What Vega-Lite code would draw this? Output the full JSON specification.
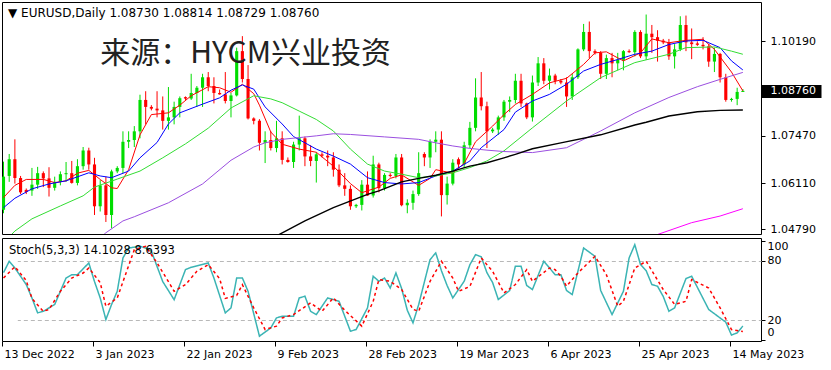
{
"$schema": "https://vega.github.io/schema/vega-lite/v6.json",
"background": "#ffffff",
"padding": {"left": 1, "top": 1, "right": 0, "bottom": 0},
"bounds": "flush",
"spacing": 4,
"resolve": {"scale": {"x": "shared", "color": "independent", "strokeDash": "independent", "strokeWidth": "independent"}},
"config": {
  "font": "DejaVu Sans",
  "view": {"stroke": "#000000", "strokeWidth": 1},
  "axis": {"labelFont": "DejaVu Sans", "labelFontSize": 11, "labelColor": "#000000", "tickColor": "#000000", "domain": false, "grid": false}
},
"datasets": {
"candles": [
{"d":"2022-12-13","o":1.0535,"h":1.0673,"l":1.0525,"c":1.0630},
{"d":"2022-12-14","o":1.0632,"h":1.0695,"l":1.0615,"c":1.0680},
{"d":"2022-12-15","o":1.0680,"h":1.0737,"l":1.0610,"c":1.0626},
{"d":"2022-12-16","o":1.0626,"h":1.0632,"l":1.0580,"c":1.0585},
{"d":"2022-12-18","o":1.0592,"h":1.0596,"l":1.0580,"c":1.0586},
{"d":"2022-12-19","o":1.0590,"h":1.0655,"l":1.0575,"c":1.0607},
{"d":"2022-12-20","o":1.0607,"h":1.0658,"l":1.0595,"c":1.0640},
{"d":"2022-12-21","o":1.0640,"h":1.0645,"l":1.0600,"c":1.0625},
{"d":"2022-12-22","o":1.0625,"h":1.0657,"l":1.0573,"c":1.0598},
{"d":"2022-12-23","o":1.0598,"h":1.0630,"l":1.0590,"c":1.0615},
{"d":"2022-12-26","o":1.0615,"h":1.0645,"l":1.0605,"c":1.0637},
{"d":"2022-12-27","o":1.0637,"h":1.0672,"l":1.0615,"c":1.0640},
{"d":"2022-12-28","o":1.0640,"h":1.0675,"l":1.0610,"c":1.0612},
{"d":"2022-12-29","o":1.0612,"h":1.0680,"l":1.0605,"c":1.0660},
{"d":"2022-12-30","o":1.0660,"h":1.0715,"l":1.0650,"c":1.0705},
{"d":"2023-01-02","o":1.0705,"h":1.0713,"l":1.0650,"c":1.0665},
{"d":"2023-01-03","o":1.0665,"h":1.0684,"l":1.0520,"c":1.0545},
{"d":"2023-01-04","o":1.0545,"h":1.0620,"l":1.0530,"c":1.0605},
{"d":"2023-01-05","o":1.0605,"h":1.0630,"l":1.0500,"c":1.0520},
{"d":"2023-01-06","o":1.0520,"h":1.0650,"l":1.0482,"c":1.0645},
{"d":"2023-01-08","o":1.0645,"h":1.0660,"l":1.0640,"c":1.0655},
{"d":"2023-01-09","o":1.0655,"h":1.0760,"l":1.0640,"c":1.0730},
{"d":"2023-01-10","o":1.0730,"h":1.0760,"l":1.0712,"c":1.0735},
{"d":"2023-01-11","o":1.0735,"h":1.0775,"l":1.0715,"c":1.0760},
{"d":"2023-01-12","o":1.0760,"h":1.0865,"l":1.0740,"c":1.0850},
{"d":"2023-01-13","o":1.0850,"h":1.0875,"l":1.0780,"c":1.0830},
{"d":"2023-01-15","o":1.0830,"h":1.0835,"l":1.0820,"c":1.0825},
{"d":"2023-01-16","o":1.0825,"h":1.0875,"l":1.0800,"c":1.0820},
{"d":"2023-01-17","o":1.0820,"h":1.0860,"l":1.0765,"c":1.0790},
{"d":"2023-01-18","o":1.0790,"h":1.0887,"l":1.0765,"c":1.0800},
{"d":"2023-01-19","o":1.0800,"h":1.0845,"l":1.0780,"c":1.0830},
{"d":"2023-01-20","o":1.0830,"h":1.0860,"l":1.0800,"c":1.0855},
{"d":"2023-01-22","o":1.0858,"h":1.0860,"l":1.0850,"c":1.0854},
{"d":"2023-01-23","o":1.0854,"h":1.0925,"l":1.0850,"c":1.0870},
{"d":"2023-01-24","o":1.0870,"h":1.0890,"l":1.0830,"c":1.0885},
{"d":"2023-01-25","o":1.0885,"h":1.0925,"l":1.0830,"c":1.0915},
{"d":"2023-01-26","o":1.0915,"h":1.0930,"l":1.0875,"c":1.0890},
{"d":"2023-01-27","o":1.0890,"h":1.0915,"l":1.0840,"c":1.0870},
{"d":"2023-01-29","o":1.0870,"h":1.0880,"l":1.0865,"c":1.0866},
{"d":"2023-01-30","o":1.0866,"h":1.0930,"l":1.0840,"c":1.0847},
{"d":"2023-01-31","o":1.0847,"h":1.0870,"l":1.0800,"c":1.0863},
{"d":"2023-02-01","o":1.0863,"h":1.1000,"l":1.0860,"c":1.0990},
{"d":"2023-02-02","o":1.0990,"h":1.1033,"l":1.0900,"c":1.0910},
{"d":"2023-02-03","o":1.0910,"h":1.0950,"l":1.0794,"c":1.0797},
{"d":"2023-02-05","o":1.0797,"h":1.0800,"l":1.0780,"c":1.0790},
{"d":"2023-02-06","o":1.0790,"h":1.0795,"l":1.0705,"c":1.0727},
{"d":"2023-02-07","o":1.0727,"h":1.0760,"l":1.0669,"c":1.0735},
{"d":"2023-02-08","o":1.0735,"h":1.0760,"l":1.0705,"c":1.0712},
{"d":"2023-02-09","o":1.0712,"h":1.0790,"l":1.0700,"c":1.0740},
{"d":"2023-02-10","o":1.0740,"h":1.0760,"l":1.0665,"c":1.0678},
{"d":"2023-02-12","o":1.0678,"h":1.0685,"l":1.0670,"c":1.0672},
{"d":"2023-02-13","o":1.0672,"h":1.0730,"l":1.0655,"c":1.0722},
{"d":"2023-02-14","o":1.0722,"h":1.0805,"l":1.0705,"c":1.0740},
{"d":"2023-02-15","o":1.0740,"h":1.0745,"l":1.0660,"c":1.0688},
{"d":"2023-02-16","o":1.0688,"h":1.0720,"l":1.0660,"c":1.0675},
{"d":"2023-02-17","o":1.0675,"h":1.0700,"l":1.0613,"c":1.0694},
{"d":"2023-02-19","o":1.0694,"h":1.0700,"l":1.0685,"c":1.0690},
{"d":"2023-02-20","o":1.0690,"h":1.0705,"l":1.0660,"c":1.0685},
{"d":"2023-02-21","o":1.0685,"h":1.0700,"l":1.0630,"c":1.0650},
{"d":"2023-02-22","o":1.0650,"h":1.0665,"l":1.0600,"c":1.0605},
{"d":"2023-02-23","o":1.0605,"h":1.0640,"l":1.0575,"c":1.0595},
{"d":"2023-02-24","o":1.0595,"h":1.0605,"l":1.0535,"c":1.0545},
{"d":"2023-02-26","o":1.0545,"h":1.0552,"l":1.0540,"c":1.0549},
{"d":"2023-02-27","o":1.0549,"h":1.0620,"l":1.0533,"c":1.0607},
{"d":"2023-02-28","o":1.0607,"h":1.0645,"l":1.0575,"c":1.0576},
{"d":"2023-03-01","o":1.0576,"h":1.0690,"l":1.0570,"c":1.0665},
{"d":"2023-03-02","o":1.0665,"h":1.0670,"l":1.0585,"c":1.0597},
{"d":"2023-03-03","o":1.0597,"h":1.0640,"l":1.0590,"c":1.0635},
{"d":"2023-03-05","o":1.0635,"h":1.0640,"l":1.0628,"c":1.0632},
{"d":"2023-03-06","o":1.0632,"h":1.0695,"l":1.0625,"c":1.0685},
{"d":"2023-03-07","o":1.0685,"h":1.0695,"l":1.0545,"c":1.0548},
{"d":"2023-03-08","o":1.0548,"h":1.0565,"l":1.0525,"c":1.0555},
{"d":"2023-03-09","o":1.0555,"h":1.0590,"l":1.0535,"c":1.0580},
{"d":"2023-03-10","o":1.0580,"h":1.0700,"l":1.0575,"c":1.0640},
{"d":"2023-03-12","o":1.0695,"h":1.0700,"l":1.0660,"c":1.0685},
{"d":"2023-03-13","o":1.0685,"h":1.0737,"l":1.0655,"c":1.0730},
{"d":"2023-03-14","o":1.0730,"h":1.0760,"l":1.0700,"c":1.0736},
{"d":"2023-03-15","o":1.0736,"h":1.0760,"l":1.0516,"c":1.0577},
{"d":"2023-03-16","o":1.0577,"h":1.0630,"l":1.0550,"c":1.0610},
{"d":"2023-03-17","o":1.0610,"h":1.0680,"l":1.0605,"c":1.0670},
{"d":"2023-03-19","o":1.0680,"h":1.0685,"l":1.0655,"c":1.0665},
{"d":"2023-03-20","o":1.0665,"h":1.0730,"l":1.0655,"c":1.0720},
{"d":"2023-03-21","o":1.0720,"h":1.0787,"l":1.0712,"c":1.0770},
{"d":"2023-03-22","o":1.0770,"h":1.0912,"l":1.0760,"c":1.0857},
{"d":"2023-03-23","o":1.0857,"h":1.0930,"l":1.0820,"c":1.0832},
{"d":"2023-03-24","o":1.0832,"h":1.0845,"l":1.0712,"c":1.0760},
{"d":"2023-03-26","o":1.0760,"h":1.0770,"l":1.0755,"c":1.0765},
{"d":"2023-03-27","o":1.0765,"h":1.0805,"l":1.0750,"c":1.0800},
{"d":"2023-03-28","o":1.0800,"h":1.0850,"l":1.0790,"c":1.0845},
{"d":"2023-03-29","o":1.0845,"h":1.0860,"l":1.0815,"c":1.0850},
{"d":"2023-03-30","o":1.0850,"h":1.0925,"l":1.0840,"c":1.0905},
{"d":"2023-03-31","o":1.0905,"h":1.0925,"l":1.0830,"c":1.0840},
{"d":"2023-04-02","o":1.0840,"h":1.0842,"l":1.0795,"c":1.0800},
{"d":"2023-04-03","o":1.0800,"h":1.0920,"l":1.0788,"c":1.0900},
{"d":"2023-04-04","o":1.0900,"h":1.0973,"l":1.0890,"c":1.0955},
{"d":"2023-04-05","o":1.0955,"h":1.0970,"l":1.0895,"c":1.0905},
{"d":"2023-04-06","o":1.0905,"h":1.0940,"l":1.0880,"c":1.0920},
{"d":"2023-04-07","o":1.0920,"h":1.0925,"l":1.0895,"c":1.0905},
{"d":"2023-04-09","o":1.0905,"h":1.0910,"l":1.0895,"c":1.0900},
{"d":"2023-04-10","o":1.0900,"h":1.0915,"l":1.0830,"c":1.0860},
{"d":"2023-04-11","o":1.0860,"h":1.0925,"l":1.0850,"c":1.0915},
{"d":"2023-04-12","o":1.0915,"h":1.0998,"l":1.0910,"c":1.0995},
{"d":"2023-04-13","o":1.0995,"h":1.1068,"l":1.0990,"c":1.1045},
{"d":"2023-04-14","o":1.1045,"h":1.1075,"l":1.0970,"c":1.0990},
{"d":"2023-04-16","o":1.0990,"h":1.0995,"l":1.0980,"c":1.0985},
{"d":"2023-04-17","o":1.0985,"h":1.0990,"l":1.0910,"c":1.0925},
{"d":"2023-04-18","o":1.0925,"h":1.0980,"l":1.0910,"c":1.0970},
{"d":"2023-04-19","o":1.0970,"h":1.0985,"l":1.0915,"c":1.0955},
{"d":"2023-04-20","o":1.0955,"h":1.0985,"l":1.0935,"c":1.0965},
{"d":"2023-04-21","o":1.0965,"h":1.0993,"l":1.0935,"c":1.0990},
{"d":"2023-04-23","o":1.0990,"h":1.0995,"l":1.0985,"c":1.0987},
{"d":"2023-04-24","o":1.0987,"h":1.1050,"l":1.0975,"c":1.1045},
{"d":"2023-04-25","o":1.1045,"h":1.1050,"l":1.0970,"c":1.0975},
{"d":"2023-04-26","o":1.0975,"h":1.1095,"l":1.0965,"c":1.1040},
{"d":"2023-04-27","o":1.1040,"h":1.1065,"l":1.0985,"c":1.1030},
{"d":"2023-04-28","o":1.1030,"h":1.1050,"l":1.0960,"c":1.1020},
{"d":"2023-04-30","o":1.1020,"h":1.1025,"l":1.1010,"c":1.1015},
{"d":"2023-05-01","o":1.1015,"h":1.1025,"l":1.0965,"c":1.0975},
{"d":"2023-05-02","o":1.0975,"h":1.1010,"l":1.0940,"c":1.0995},
{"d":"2023-05-03","o":1.0995,"h":1.1090,"l":1.0990,"c":1.1065},
{"d":"2023-05-04","o":1.1065,"h":1.1092,"l":1.0990,"c":1.1015},
{"d":"2023-05-05","o":1.1015,"h":1.1055,"l":1.0967,"c":1.1010},
{"d":"2023-05-07","o":1.1012,"h":1.1018,"l":1.1005,"c":1.1008},
{"d":"2023-05-08","o":1.1008,"h":1.1030,"l":1.0995,"c":1.1004},
{"d":"2023-05-09","o":1.1004,"h":1.1010,"l":1.0945,"c":1.0960},
{"d":"2023-05-10","o":1.0960,"h":1.1000,"l":1.0930,"c":1.0982},
{"d":"2023-05-11","o":1.0982,"h":1.0985,"l":1.0900,"c":1.0915},
{"d":"2023-05-12","o":1.0915,"h":1.0925,"l":1.0845,"c":1.0850},
{"d":"2023-05-14","o":1.0850,"h":1.0856,"l":1.0845,"c":1.0853},
{"d":"2023-05-15","o":1.0853,"h":1.0885,"l":1.0835,"c":1.0873},
{"d":"2023-05-16","o":1.0873,"h":1.08814,"l":1.08729,"c":1.0876}
],
"ma": [
{"n":"MA5","d":"2022-12-13","v":1.0570},{"n":"MA5","d":"2022-12-15","v":1.0605},{"n":"MA5","d":"2022-12-18","v":1.0622},{"n":"MA5","d":"2022-12-21","v":1.0622},{"n":"MA5","d":"2022-12-23","v":1.0613},{"n":"MA5","d":"2022-12-27","v":1.0618},{"n":"MA5","d":"2022-12-29","v":1.0640},{"n":"MA5","d":"2023-01-02","v":1.0648},{"n":"MA5","d":"2023-01-04","v":1.0622},{"n":"MA5","d":"2023-01-06","v":1.0598},{"n":"MA5","d":"2023-01-08","v":1.0596},{"n":"MA5","d":"2023-01-10","v":1.0650},{"n":"MA5","d":"2023-01-12","v":1.0750},{"n":"MA5","d":"2023-01-15","v":1.0808},{"n":"MA5","d":"2023-01-18","v":1.0813},{"n":"MA5","d":"2023-01-20","v":1.0835},{"n":"MA5","d":"2023-01-23","v":1.0862},{"n":"MA5","d":"2023-01-26","v":1.0888},{"n":"MA5","d":"2023-01-29","v":1.0885},{"n":"MA5","d":"2023-01-31","v":1.0872},{"n":"MA5","d":"2023-02-02","v":1.0895},{"n":"MA5","d":"2023-02-05","v":1.0868},{"n":"MA5","d":"2023-02-06","v":1.0835},{"n":"MA5","d":"2023-02-08","v":1.0758},{"n":"MA5","d":"2023-02-10","v":1.0723},{"n":"MA5","d":"2023-02-14","v":1.0709},{"n":"MA5","d":"2023-02-17","v":1.0700},{"n":"MA5","d":"2023-02-21","v":1.0660},{"n":"MA5","d":"2023-02-24","v":1.0610},{"n":"MA5","d":"2023-02-27","v":1.0584},{"n":"MA5","d":"2023-03-02","v":1.0600},{"n":"MA5","d":"2023-03-05","v":1.0625},{"n":"MA5","d":"2023-03-07","v":1.0635},{"n":"MA5","d":"2023-03-10","v":1.0605},{"n":"MA5","d":"2023-03-13","v":1.0625},{"n":"MA5","d":"2023-03-14","v":1.0650},{"n":"MA5","d":"2023-03-17","v":1.0640},{"n":"MA5","d":"2023-03-20","v":1.0668},{"n":"MA5","d":"2023-03-22","v":1.0730},{"n":"MA5","d":"2023-03-26","v":1.0775},{"n":"MA5","d":"2023-03-28","v":1.0808},{"n":"MA5","d":"2023-03-30","v":1.0837},{"n":"MA5","d":"2023-04-03","v":1.0866},{"n":"MA5","d":"2023-04-06","v":1.0899},{"n":"MA5","d":"2023-04-10","v":1.0912},{"n":"MA5","d":"2023-04-13","v":1.0952},{"n":"MA5","d":"2023-04-16","v":1.0985},{"n":"MA5","d":"2023-04-18","v":1.0988},{"n":"MA5","d":"2023-04-21","v":1.0962},{"n":"MA5","d":"2023-04-25","v":1.0985},{"n":"MA5","d":"2023-04-27","v":1.1025},{"n":"MA5","d":"2023-05-01","v":1.1014},{"n":"MA5","d":"2023-05-04","v":1.1021},{"n":"MA5","d":"2023-05-08","v":1.1024},{"n":"MA5","d":"2023-05-10","v":1.0995},{"n":"MA5","d":"2023-05-14","v":1.0930},{"n":"MA5","d":"2023-05-16","v":1.0876},
{"n":"MA10","d":"2022-12-13","v":1.0541},{"n":"MA10","d":"2022-12-15","v":1.0568},{"n":"MA10","d":"2022-12-19","v":1.0595},{"n":"MA10","d":"2022-12-22","v":1.0609},{"n":"MA10","d":"2022-12-27","v":1.0618},{"n":"MA10","d":"2023-01-02","v":1.0641},{"n":"MA10","d":"2023-01-04","v":1.0632},{"n":"MA10","d":"2023-01-06","v":1.0627},{"n":"MA10","d":"2023-01-10","v":1.0646},{"n":"MA10","d":"2023-01-12","v":1.0684},{"n":"MA10","d":"2023-01-16","v":1.0728},{"n":"MA10","d":"2023-01-18","v":1.0781},{"n":"MA10","d":"2023-01-20","v":1.0813},{"n":"MA10","d":"2023-01-25","v":1.0838},{"n":"MA10","d":"2023-01-29","v":1.0856},{"n":"MA10","d":"2023-01-31","v":1.0878},{"n":"MA10","d":"2023-02-02","v":1.0893},{"n":"MA10","d":"2023-02-05","v":1.0881},{"n":"MA10","d":"2023-02-07","v":1.0830},{"n":"MA10","d":"2023-02-10","v":1.0781},{"n":"MA10","d":"2023-02-13","v":1.0745},{"n":"MA10","d":"2023-02-17","v":1.0709},{"n":"MA10","d":"2023-02-21","v":1.0689},{"n":"MA10","d":"2023-02-24","v":1.0666},{"n":"MA10","d":"2023-02-28","v":1.0627},{"n":"MA10","d":"2023-03-03","v":1.0613},{"n":"MA10","d":"2023-03-07","v":1.0609},{"n":"MA10","d":"2023-03-10","v":1.0613},{"n":"MA10","d":"2023-03-14","v":1.0632},{"n":"MA10","d":"2023-03-17","v":1.0646},{"n":"MA10","d":"2023-03-21","v":1.0675},{"n":"MA10","d":"2023-03-23","v":1.0713},{"n":"MA10","d":"2023-03-28","v":1.0765},{"n":"MA10","d":"2023-03-30","v":1.0815},{"n":"MA10","d":"2023-04-03","v":1.0847},{"n":"MA10","d":"2023-04-06","v":1.0866},{"n":"MA10","d":"2023-04-10","v":1.0895},{"n":"MA10","d":"2023-04-13","v":1.0933},{"n":"MA10","d":"2023-04-17","v":1.0952},{"n":"MA10","d":"2023-04-20","v":1.0966},{"n":"MA10","d":"2023-04-24","v":1.0981},{"n":"MA10","d":"2023-04-27","v":1.0990},{"n":"MA10","d":"2023-05-01","v":1.1009},{"n":"MA10","d":"2023-05-04","v":1.1019},{"n":"MA10","d":"2023-05-08","v":1.1021},{"n":"MA10","d":"2023-05-11","v":1.1000},{"n":"MA10","d":"2023-05-14","v":1.0962},{"n":"MA10","d":"2023-05-16","v":1.0936},
{"n":"MA20","d":"2022-12-13","v":1.0440},{"n":"MA20","d":"2022-12-15","v":1.0474},{"n":"MA20","d":"2022-12-19","v":1.0509},{"n":"MA20","d":"2022-12-26","v":1.0546},{"n":"MA20","d":"2022-12-30","v":1.0575},{"n":"MA20","d":"2023-01-03","v":1.0600},{"n":"MA20","d":"2023-01-08","v":1.0623},{"n":"MA20","d":"2023-01-12","v":1.0646},{"n":"MA20","d":"2023-01-17","v":1.0684},{"n":"MA20","d":"2023-01-22","v":1.0724},{"n":"MA20","d":"2023-01-26","v":1.0769},{"n":"MA20","d":"2023-01-31","v":1.0827},{"n":"MA20","d":"2023-02-05","v":1.0862},{"n":"MA20","d":"2023-02-08","v":1.0853},{"n":"MA20","d":"2023-02-10","v":1.0842},{"n":"MA20","d":"2023-02-14","v":1.0818},{"n":"MA20","d":"2023-02-17","v":1.0794},{"n":"MA20","d":"2023-02-21","v":1.0761},{"n":"MA20","d":"2023-02-24","v":1.0709},{"n":"MA20","d":"2023-02-28","v":1.0666},{"n":"MA20","d":"2023-03-03","v":1.0646},{"n":"MA20","d":"2023-03-07","v":1.0637},{"n":"MA20","d":"2023-03-10","v":1.0627},{"n":"MA20","d":"2023-03-14","v":1.0632},{"n":"MA20","d":"2023-03-17","v":1.0641},{"n":"MA20","d":"2023-03-21","v":1.0656},{"n":"MA20","d":"2023-03-24","v":1.0675},{"n":"MA20","d":"2023-03-28","v":1.0704},{"n":"MA20","d":"2023-04-03","v":1.0770},{"n":"MA20","d":"2023-04-10","v":1.0847},{"n":"MA20","d":"2023-04-17","v":1.0914},{"n":"MA20","d":"2023-04-24","v":1.0957},{"n":"MA20","d":"2023-05-01","v":1.0981},{"n":"MA20","d":"2023-05-04","v":1.1000},{"n":"MA20","d":"2023-05-10","v":1.1002},{"n":"MA20","d":"2023-05-14","v":1.0990},{"n":"MA20","d":"2023-05-16","v":1.0981},
{"n":"MA50","d":"2023-01-04","v":1.0455},{"n":"MA50","d":"2023-01-05","v":1.0469},{"n":"MA50","d":"2023-01-09","v":1.0503},{"n":"MA50","d":"2023-01-11","v":1.0515},{"n":"MA50","d":"2023-01-18","v":1.0555},{"n":"MA50","d":"2023-01-25","v":1.0609},{"n":"MA50","d":"2023-01-31","v":1.0677},{"n":"MA50","d":"2023-02-05","v":1.0715},{"n":"MA50","d":"2023-02-07","v":1.0727},{"n":"MA50","d":"2023-02-10","v":1.0737},{"n":"MA50","d":"2023-02-17","v":1.0747},{"n":"MA50","d":"2023-02-21","v":1.0753},{"n":"MA50","d":"2023-02-24","v":1.0751},{"n":"MA50","d":"2023-03-03","v":1.0744},{"n":"MA50","d":"2023-03-10","v":1.0737},{"n":"MA50","d":"2023-03-14","v":1.0727},{"n":"MA50","d":"2023-03-17","v":1.0718},{"n":"MA50","d":"2023-03-21","v":1.0711},{"n":"MA50","d":"2023-03-24","v":1.0706},{"n":"MA50","d":"2023-03-28","v":1.0702},{"n":"MA50","d":"2023-04-03","v":1.0699},{"n":"MA50","d":"2023-04-10","v":1.0713},{"n":"MA50","d":"2023-04-17","v":1.0761},{"n":"MA50","d":"2023-04-24","v":1.0813},{"n":"MA50","d":"2023-05-01","v":1.0857},{"n":"MA50","d":"2023-05-07","v":1.0888},{"n":"MA50","d":"2023-05-11","v":1.0909},{"n":"MA50","d":"2023-05-16","v":1.0929},
{"n":"MA100","d":"2023-02-09","v":1.0460},{"n":"MA100","d":"2023-02-15","v":1.0503},{"n":"MA100","d":"2023-02-21","v":1.0541},{"n":"MA100","d":"2023-02-28","v":1.0579},{"n":"MA100","d":"2023-03-02","v":1.0589},{"n":"MA100","d":"2023-03-07","v":1.0615},{"n":"MA100","d":"2023-03-10","v":1.0625},{"n":"MA100","d":"2023-03-14","v":1.0634},{"n":"MA100","d":"2023-03-17","v":1.0646},{"n":"MA100","d":"2023-03-21","v":1.0660},{"n":"MA100","d":"2023-03-24","v":1.0670},{"n":"MA100","d":"2023-03-28","v":1.0684},{"n":"MA100","d":"2023-03-30","v":1.0694},{"n":"MA100","d":"2023-04-03","v":1.0710},{"n":"MA100","d":"2023-04-09","v":1.0727},{"n":"MA100","d":"2023-04-17","v":1.0750},{"n":"MA100","d":"2023-04-24","v":1.0778},{"n":"MA100","d":"2023-04-26","v":1.0786},{"n":"MA100","d":"2023-05-01","v":1.0804},{"n":"MA100","d":"2023-05-07","v":1.0816},{"n":"MA100","d":"2023-05-11","v":1.0820},{"n":"MA100","d":"2023-05-16","v":1.0821},
{"n":"MA200","d":"2023-04-27","v":1.0461},{"n":"MA200","d":"2023-04-28","v":1.0464},{"n":"MA200","d":"2023-05-05","v":1.0498},{"n":"MA200","d":"2023-05-11","v":1.0517},{"n":"MA200","d":"2023-05-16","v":1.0538}
],
"stoch": [
{"s":"K","d":"2022-12-13","v":68},{"s":"K","d":"2022-12-14","v":79.5},{"s":"K","d":"2022-12-15","v":72.7},{"s":"K","d":"2022-12-18","v":56},{"s":"K","d":"2022-12-19","v":42.5},{"s":"K","d":"2022-12-20","v":27.4},{"s":"K","d":"2022-12-21","v":29},{"s":"K","d":"2022-12-23","v":35.8},{"s":"K","d":"2022-12-27","v":62.6},{"s":"K","d":"2022-12-28","v":66},{"s":"K","d":"2022-12-29","v":66},{"s":"K","d":"2023-01-02","v":77.8},{"s":"K","d":"2023-01-03","v":59},{"s":"K","d":"2023-01-04","v":42.5},{"s":"K","d":"2023-01-05","v":20.7},{"s":"K","d":"2023-01-06","v":35.8},{"s":"K","d":"2023-01-08","v":49.2},{"s":"K","d":"2023-01-09","v":82.8},{"s":"K","d":"2023-01-10","v":92.9},{"s":"K","d":"2023-01-12","v":94.6},{"s":"K","d":"2023-01-13","v":92.9},{"s":"K","d":"2023-01-15","v":89.6},{"s":"K","d":"2023-01-17","v":59},{"s":"K","d":"2023-01-19","v":40.7},{"s":"K","d":"2023-01-22","v":71.1},{"s":"K","d":"2023-01-23","v":73.4},{"s":"K","d":"2023-01-26","v":77.8},{"s":"K","d":"2023-01-27","v":62.6},{"s":"K","d":"2023-01-30","v":27.4},{"s":"K","d":"2023-01-31","v":32.4},{"s":"K","d":"2023-02-01","v":62.6},{"s":"K","d":"2023-02-02","v":62.6},{"s":"K","d":"2023-02-03","v":49.2},{"s":"K","d":"2023-02-06","v":3.9},{"s":"K","d":"2023-02-08","v":12.2},{"s":"K","d":"2023-02-09","v":22.3},{"s":"K","d":"2023-02-10","v":24},{"s":"K","d":"2023-02-13","v":24},{"s":"K","d":"2023-02-14","v":42.5},{"s":"K","d":"2023-02-15","v":44.2},{"s":"K","d":"2023-02-16","v":29},{"s":"K","d":"2023-02-17","v":25.7},{"s":"K","d":"2023-02-20","v":42.5},{"s":"K","d":"2023-02-22","v":39.1},{"s":"K","d":"2023-02-24","v":8.9},{"s":"K","d":"2023-02-26","v":10.6},{"s":"K","d":"2023-02-28","v":32.4},{"s":"K","d":"2023-03-01","v":64.4},{"s":"K","d":"2023-03-02","v":59.3},{"s":"K","d":"2023-03-03","v":62.6},{"s":"K","d":"2023-03-05","v":52.5},{"s":"K","d":"2023-03-06","v":67.7},{"s":"K","d":"2023-03-07","v":52},{"s":"K","d":"2023-03-08","v":30},{"s":"K","d":"2023-03-09","v":17.3},{"s":"K","d":"2023-03-10","v":35.8},{"s":"K","d":"2023-03-13","v":81.2},{"s":"K","d":"2023-03-14","v":87.9},{"s":"K","d":"2023-03-15","v":70},{"s":"K","d":"2023-03-16","v":55},{"s":"K","d":"2023-03-17","v":42.5},{"s":"K","d":"2023-03-20","v":59.3},{"s":"K","d":"2023-03-21","v":76},{"s":"K","d":"2023-03-22","v":86.2},{"s":"K","d":"2023-03-23","v":84},{"s":"K","d":"2023-03-24","v":68},{"s":"K","d":"2023-03-26","v":58},{"s":"K","d":"2023-03-27","v":40.9},{"s":"K","d":"2023-03-29","v":50},{"s":"K","d":"2023-03-30","v":74.5},{"s":"K","d":"2023-03-31","v":74.5},{"s":"K","d":"2023-04-02","v":55},{"s":"K","d":"2023-04-03","v":51},{"s":"K","d":"2023-04-05","v":79.5},{"s":"K","d":"2023-04-07","v":66},{"s":"K","d":"2023-04-09","v":66},{"s":"K","d":"2023-04-10","v":50},{"s":"K","d":"2023-04-11","v":45.9},{"s":"K","d":"2023-04-13","v":92.9},{"s":"K","d":"2023-04-16","v":84.5},{"s":"K","d":"2023-04-17","v":50},{"s":"K","d":"2023-04-19","v":25.7},{"s":"K","d":"2023-04-21","v":49.2},{"s":"K","d":"2023-04-23","v":82.8},{"s":"K","d":"2023-04-24","v":96.3},{"s":"K","d":"2023-04-25","v":76.2},{"s":"K","d":"2023-04-26","v":70},{"s":"K","d":"2023-04-27","v":56},{"s":"K","d":"2023-04-28","v":54.3},{"s":"K","d":"2023-04-30","v":44},{"s":"K","d":"2023-05-01","v":29},{"s":"K","d":"2023-05-02","v":32.4},{"s":"K","d":"2023-05-04","v":62},{"s":"K","d":"2023-05-05","v":64.4},{"s":"K","d":"2023-05-09","v":30.8},{"s":"K","d":"2023-05-12","v":18},{"s":"K","d":"2023-05-14","v":5},{"s":"K","d":"2023-05-15","v":7.2},{"s":"K","d":"2023-05-16","v":14.1},
{"s":"D","d":"2022-12-13","v":62.6},{"s":"D","d":"2022-12-15","v":74},{"s":"D","d":"2022-12-18","v":60},{"s":"D","d":"2022-12-19","v":42},{"s":"D","d":"2022-12-21","v":29},{"s":"D","d":"2022-12-22","v":30.8},{"s":"D","d":"2022-12-26","v":49.2},{"s":"D","d":"2022-12-28","v":62.6},{"s":"D","d":"2022-12-30","v":67.6},{"s":"D","d":"2023-01-02","v":72.7},{"s":"D","d":"2023-01-04","v":58},{"s":"D","d":"2023-01-05","v":34.1},{"s":"D","d":"2023-01-08","v":42.5},{"s":"D","d":"2023-01-10","v":75},{"s":"D","d":"2023-01-11","v":91.2},{"s":"D","d":"2023-01-13","v":94.6},{"s":"D","d":"2023-01-16","v":77.8},{"s":"D","d":"2023-01-18","v":59},{"s":"D","d":"2023-01-19","v":49.2},{"s":"D","d":"2023-01-22","v":55.9},{"s":"D","d":"2023-01-24","v":69.4},{"s":"D","d":"2023-01-26","v":76.1},{"s":"D","d":"2023-01-29","v":62},{"s":"D","d":"2023-01-30","v":42},{"s":"D","d":"2023-02-01","v":45},{"s":"D","d":"2023-02-02","v":55.9},{"s":"D","d":"2023-02-05","v":32.4},{"s":"D","d":"2023-02-07","v":10.6},{"s":"D","d":"2023-02-09","v":14},{"s":"D","d":"2023-02-10","v":22.3},{"s":"D","d":"2023-02-13","v":25.7},{"s":"D","d":"2023-02-16","v":37.5},{"s":"D","d":"2023-02-19","v":29},{"s":"D","d":"2023-02-21","v":42.5},{"s":"D","d":"2023-02-23","v":30},{"s":"D","d":"2023-02-27","v":14},{"s":"D","d":"2023-03-01","v":39},{"s":"D","d":"2023-03-02","v":61},{"s":"D","d":"2023-03-05","v":59.3},{"s":"D","d":"2023-03-07","v":51},{"s":"D","d":"2023-03-09","v":31},{"s":"D","d":"2023-03-10","v":29},{"s":"D","d":"2023-03-13","v":59.3},{"s":"D","d":"2023-03-15","v":79.5},{"s":"D","d":"2023-03-17","v":62.6},{"s":"D","d":"2023-03-19","v":49.2},{"s":"D","d":"2023-03-21","v":54},{"s":"D","d":"2023-03-23","v":82.8},{"s":"D","d":"2023-03-26","v":69.4},{"s":"D","d":"2023-03-28","v":47.5},{"s":"D","d":"2023-03-30","v":56},{"s":"D","d":"2023-04-02","v":71.1},{"s":"D","d":"2023-04-03","v":59.3},{"s":"D","d":"2023-04-06","v":72.7},{"s":"D","d":"2023-04-07","v":71},{"s":"D","d":"2023-04-09","v":64.4},{"s":"D","d":"2023-04-10","v":54.3},{"s":"D","d":"2023-04-12","v":67.7},{"s":"D","d":"2023-04-16","v":84.5},{"s":"D","d":"2023-04-18","v":66},{"s":"D","d":"2023-04-20","v":34.1},{"s":"D","d":"2023-04-21","v":39.1},{"s":"D","d":"2023-04-24","v":72.7},{"s":"D","d":"2023-04-26","v":79.5},{"s":"D","d":"2023-04-30","v":51},{"s":"D","d":"2023-05-02","v":36},{"s":"D","d":"2023-05-04","v":39.1},{"s":"D","d":"2023-05-05","v":61},{"s":"D","d":"2023-05-09","v":52.5},{"s":"D","d":"2023-05-11","v":32.4},{"s":"D","d":"2023-05-14","v":10.6},{"s":"D","d":"2023-05-16","v":8.64}
]
},
"vconcat": [
{
  "width": 759,
  "height": 232,
  "title": {"text": "▼  EURUSD,Daily  1.08730 1.08814 1.08729 1.08760", "anchor": "start", "frame": "group", "orient": "top", "offset": -23, "dx": 6, "fontSize": 12, "fontWeight": "normal", "font": "DejaVu Sans", "color": "#000000", "baseline": "middle"},
  "layer": [
    {
      "data": {"name": "candles"},
      "mark": {"type": "rule", "clip": true, "strokeWidth": 1},
      "encoding": {
        "x": {"field": "d", "type": "ordinal", "scale": {"type": "band", "range": [-1.34, 743.7], "paddingInner": 0, "paddingOuter": 0}, "axis": null},
        "y": {"field": "l", "type": "quantitative", "scale": {"domain": [1.04655, 1.11309], "zero": false, "nice": false},
              "axis": {"orient": "right", "title": null, "values": [1.0479, 1.0611, 1.0747, 1.0876, 1.1019], "format": ".5f", "domain": false, "grid": false,
                       "tickColor": "#000000",
                       "tickSize": {"condition": {"test": "abs(datum.value - 1.0876) < 0.00001", "value": 60}, "value": 4},
                       "tickWidth": {"condition": {"test": "abs(datum.value - 1.0876) < 0.00001", "value": 13}, "value": 1},
                       "labelPadding": {"condition": {"test": "abs(datum.value - 1.0876) < 0.00001", "value": -51}, "value": 5},
                       "labelColor": {"condition": {"test": "abs(datum.value - 1.0876) < 0.00001", "value": "#ffffff"}, "value": "#000000"},
                       "labelFontSize": 11, "labelAlign": "left", "labelBaseline": "middle"}},
        "y2": {"field": "h"},
        "color": {"condition": {"test": "datum.c >= datum.o", "value": "#00dd00"}, "value": "#ff0000"}
      }
    },
    {
      "data": {"name": "candles"},
      "mark": {"type": "bar", "clip": true, "width": {"band": 0.55}},
      "encoding": {
        "x": {"field": "d", "type": "ordinal", "scale": {"type": "band", "range": [-1.34, 743.7], "paddingInner": 0, "paddingOuter": 0}, "axis": null},
        "y": {"field": "o", "type": "quantitative"},
        "y2": {"field": "c"},
        "color": {"condition": {"test": "datum.c >= datum.o", "value": "#00dd00"}, "value": "#ff0000"}
      }
    },
    {
      "data": {"name": "ma"},
      "mark": {"type": "line", "clip": true},
      "encoding": {
        "x": {"field": "d", "type": "ordinal", "scale": {"type": "band", "range": [-1.34, 743.7], "paddingInner": 0, "paddingOuter": 0}, "axis": null},
        "y": {"field": "v", "type": "quantitative"},
        "color": {"field": "n", "type": "nominal", "scale": {"domain": ["MA200", "MA100", "MA50", "MA20", "MA10", "MA5"], "range": ["#ff00ff", "#000000", "#9b4fe0", "#33dd33", "#0000ff", "#ff0000"]}, "legend": null},
        "strokeWidth": {"condition": {"test": "datum.n === 'MA100'", "value": 1.4}, "value": 1}
      }
    },
    {
      "data": {"values": [{}]},
      "mark": {"type": "text", "text": "来源：HYCM兴业投资", "font": "Noto Sans CJK SC", "fontSize": 30, "align": "left", "baseline": "middle", "color": "#222222"},
      "encoding": {
        "x": {"datum": "2023-01-04", "type": "ordinal"},
        "y": {"datum": 1.0982, "type": "quantitative"}
      }
    }
  ]
},
{
  "width": 759,
  "height": 103,
  "title": {"text": "Stoch(5,3,3) 14.1028 8.6393", "anchor": "start", "frame": "group", "orient": "top", "offset": -24, "dx": 7, "fontSize": 11.5, "fontWeight": "normal", "font": "DejaVu Sans", "color": "#000000", "baseline": "middle"},
  "data": {"name": "stoch"},
  "mark": {"type": "line", "clip": true, "strokeWidth": 1.5},
  "encoding": {
    "x": {"field": "d", "type": "ordinal", "scale": {"type": "band", "range": [-1.34, 743.7], "paddingInner": 0, "paddingOuter": 0},
          "axis": {"orient": "bottom", "title": null, "values": ["2022-12-13", "2023-01-03", "2023-01-22", "2023-02-09", "2023-02-28", "2023-03-19", "2023-04-06", "2023-04-25", "2023-05-14"],
                   "labelExpr": "utcFormat(toDate(datum.value), '%-d %b %Y')", "labelAngle": 0, "labelAlign": "left", "labelBaseline": "top", "labelOffset": 1, "bandPosition": 0.41,
                   "tickSize": 5, "labelPadding": 2, "domain": false, "labelFontSize": 11, "labelOverlap": false, "labelBound": false, "labelFlush": false}},
    "y": {"field": "v", "type": "quantitative", "scale": {"domain": [-1, 103], "zero": false, "nice": false},
          "axis": {"orient": "right", "title": null, "values": [0, 20, 80, 100], "domain": false, "tickSize": 4, "labelPadding": 2, "labelFontSize": 11,
                   "grid": true, "gridColor": "#b8b8b8", "gridDash": [4, 3], "gridWidth": 1,
                   "gridOpacity": {"condition": {"test": "datum.value == 20 || datum.value == 80", "value": 1}, "value": 0},
                   "labelBaseline": {"condition": {"test": "datum.value == 100", "value": "top"}, "value": "middle"},
                   "labelOffset": {"condition": {"test": "datum.value == 0", "value": -8}, "value": 0}}},
    "color": {"field": "s", "type": "nominal", "scale": {"domain": ["K", "D"], "range": ["#3bb4b4", "#ff0000"]}, "legend": null},
    "strokeDash": {"field": "s", "type": "nominal", "scale": {"domain": ["K", "D"], "range": [[1, 0], [3, 3]]}, "legend": null}
  }
}
]
}
